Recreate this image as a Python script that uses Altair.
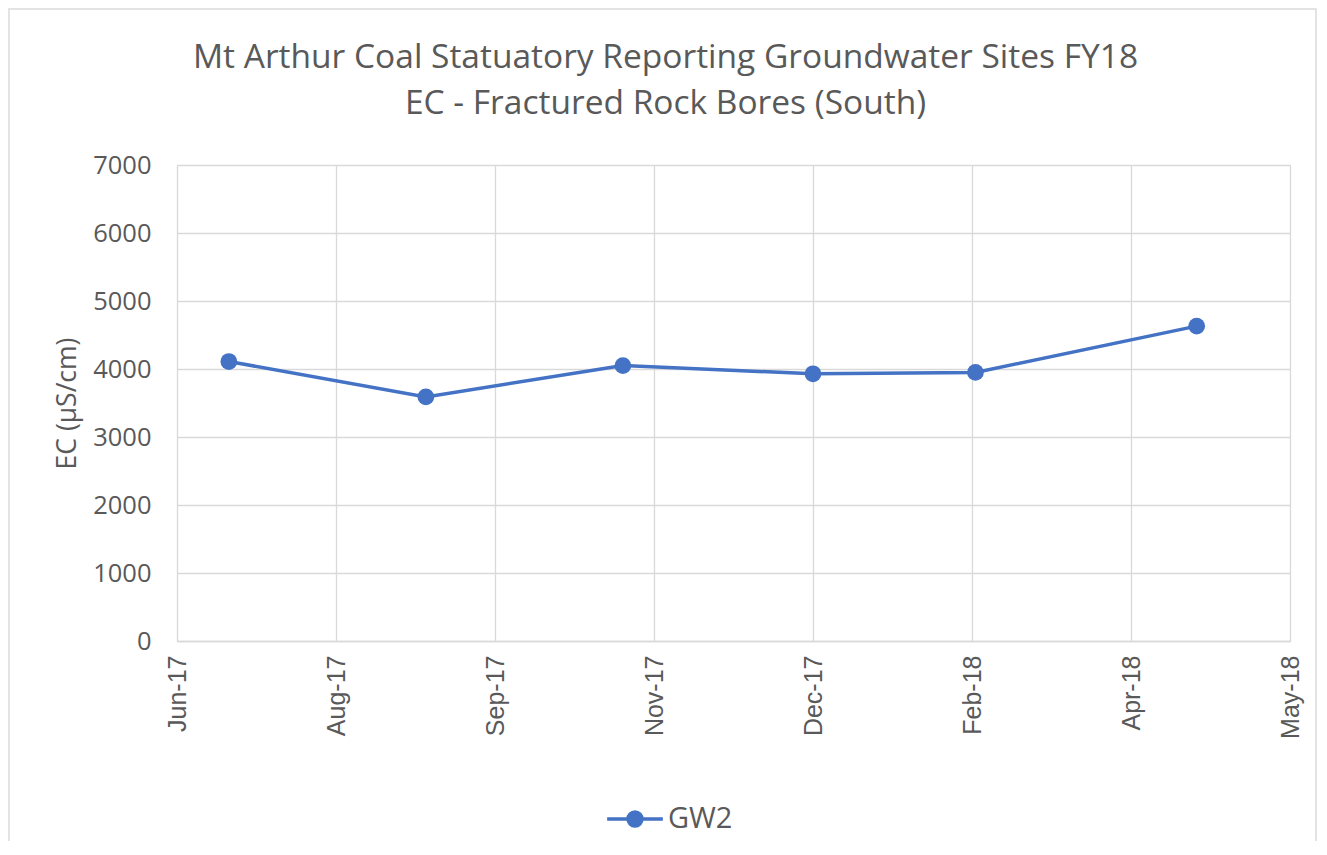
import altair as alt
import pandas as pd

# ---- data ----
sample_dates = ["2017-07-15", "2017-09-10", "2017-11-06", "2017-12-31", "2018-02-16", "2018-04-21"]
ec_values = [4110, 3590, 4050, 3930, 3950, 4630]
series_name = "GW2"

# x-axis tick dates (Excel date axis, ~46-day major unit)
tick_years = [2017, 2017, 2017, 2017, 2017, 2018, 2018, 2018]
tick_months = [6, 8, 9, 11, 12, 2, 4, 5]
tick_days = [30, 15, 30, 15, 31, 15, 2, 18]

y_ticks = [0, 1000, 2000, 3000, 4000, 5000, 6000, 7000]

title_lines = ["Mt Arthur Coal Statuatory Reporting Groundwater Sites FY18",
               "EC - Fractured Rock Bores (South)"]
y_title = "EC (µS/cm)"

df = pd.DataFrame({"date": sample_dates, "ec": ec_values, "series": [series_name] * len(ec_values)})

tick_values = [alt.DateTime(year=y, month=m, date=d, utc=True)
               for y, m, d in zip(tick_years, tick_months, tick_days)]

BLUE = "#4472C4"
TEXT = "#595959"
GRID = "#D9D9D9"
FONT = "Open Sans"

legend_symbol = "M-1,0L1,0M-0.25,0A0.25,0.25,0,1,1,0.25,0A0.25,0.25,0,1,1,-0.25,0Z"

# chart-area frame (decoration, like Excel's chart border)
frame = alt.Chart(pd.DataFrame({"k": [0]})).mark_rect(
    fill=None, stroke="#E3E3E3", strokeWidth=2
).encode(
    x=alt.value(-168), x2=alt.value(1113 + 26),
    y=alt.value(-156), y2=alt.value(476 + 215),
)

line = alt.Chart(df).mark_line(
    strokeWidth=3.5,
    point=alt.OverlayMarkDef(filled=True, size=280),
).encode(
    x=alt.X(
        "date:T",
        scale=alt.Scale(type="utc", domain=[tick_values[0], tick_values[-1]]),
        axis=alt.Axis(
            values=tick_values, labelExpr="utcFormat(datum.value, '%b-%y')", title=None,
            labelAngle=270, labelFont="Liberation Sans", labelFontSize=25,
            labelColor=TEXT, labelPadding=14, ticks=False,
            domainColor=GRID, domainWidth=1.5, gridColor=GRID, gridWidth=1.3,
        ),
    ),
    y=alt.Y(
        "ec:Q",
        scale=alt.Scale(domain=[0, 7000]),
        axis=alt.Axis(
            values=y_ticks, format="d", title=y_title, titleFont=FONT,
            titleFontSize=26.5, titleFontWeight="normal", titleColor=TEXT, titlePadding=11,
            labelFont=FONT, labelFontSize=25.5, labelColor=TEXT, labelPadding=26,
            ticks=False, domain=False, gridColor=GRID, gridWidth=1.3,
        ),
    ),
    color=alt.Color(
        "series:N",
        scale=alt.Scale(range=[BLUE]),
        legend=alt.Legend(
            title=None, orient="none", legendX=428, legendY=624,
            labelFont=FONT, labelFontSize=29, labelColor=TEXT, labelOffset=3,
            symbolType=legend_symbol, symbolSize=3100, symbolStrokeWidth=3.5,
            symbolFillColor=BLUE, symbolStrokeColor=BLUE,
        ),
    ),
)

chart = alt.layer(frame, line).properties(
    width=1113,
    height=476,
    title=alt.Title(
        title_lines, font=FONT, fontSize=33.5, fontWeight="normal", color=TEXT,
        anchor="middle", dx=-68, dy=146, offset=33, lineHeight=46,
    ),
    autosize=alt.AutoSizeParams(type="none"),
    padding={"left": 169, "top": 157, "right": 28, "bottom": 200},
).configure_view(stroke=None).configure(background="white")

chart.save("out.html", embed_options={"renderer": "svg", "actions": False})
